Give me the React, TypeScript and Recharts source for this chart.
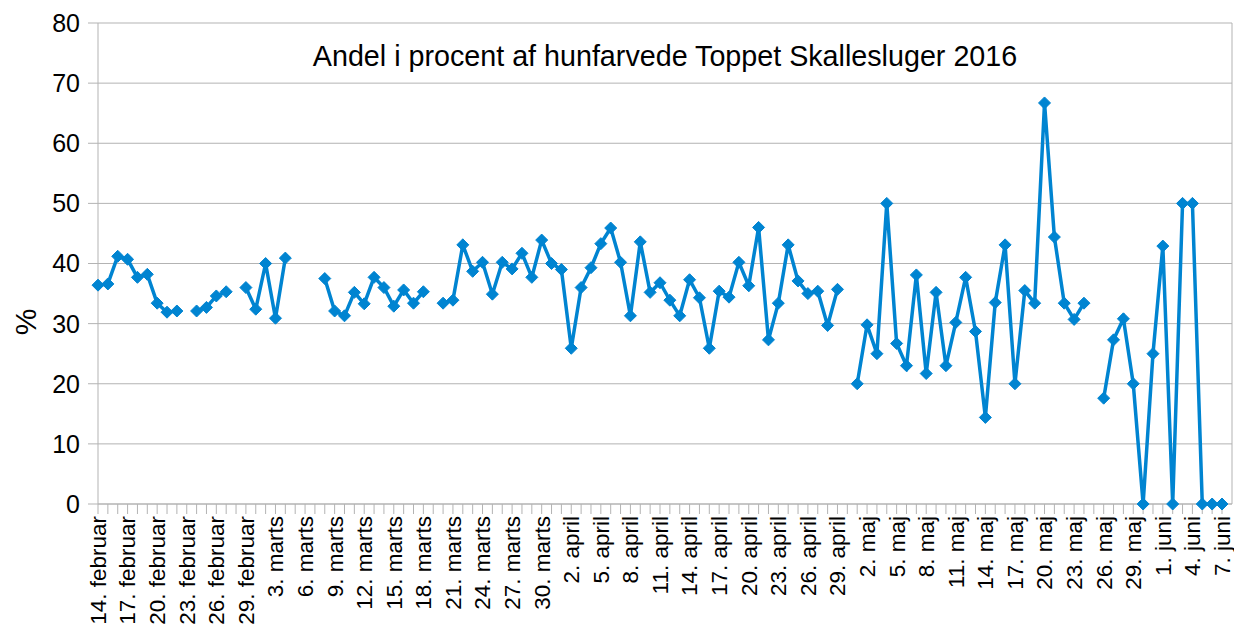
import React from "react";
import { LineChart, Line, XAxis, YAxis, CartesianGrid } from "recharts";

// month names and how many days of each are shown (14 feb - 7 juni 2016)
const months = ["februar", "marts", "april", "maj", "juni"];
const monthStart = [14, 1, 1, 1, 1];
const monthEnd = [29, 31, 30, 31, 7];

const yTicks = [0, 10, 20, 30, 40, 50, 60, 70, 80];

// percent per day, null = no count that day
const share: (number | null)[] = [
  36.4, 36.6, 41.2, 40.7, 37.7, 38.2, 33.4, 31.9, 32.1, null,
  32.1, 32.7, 34.6, 35.3, null, 36.0, 32.4, 40.0, 30.9, 40.9,
  null, null, null, 37.5, 32.1, 31.3, 35.2, 33.3, 37.7, 36.0,
  32.9, 35.6, 33.4, 35.3, null, 33.4, 33.9, 43.1, 38.7, 40.2,
  34.9, 40.2, 39.1, 41.7, 37.7, 43.9, 40.0, 39.0, 25.9, 36.0,
  39.3, 43.3, 45.9, 40.2, 31.3, 43.6, 35.2, 36.8, 33.9, 31.3,
  37.3, 34.3, 25.9, 35.4, 34.4, 40.2, 36.3, 46.0, 27.3, 33.4,
  43.1, 37.1, 35.0, 35.4, 29.7, 35.7, null, 20.0, 29.8, 25.0,
  50.0, 26.7, 23.0, 38.1, 21.7, 35.2, 23.0, 30.2, 37.7, 28.7,
  14.4, 33.5, 43.1, 20.0, 35.5, 33.4, 66.7, 44.4, 33.4, 30.7,
  33.4, null, 17.6, 27.3, 30.8, 20.0, 0, 25.0, 42.9, 0,
  50.0, 50.0, 0, 0, 0,
];

const days: string[] = [];
months.forEach((m, i) => {
  for (let d = monthStart[i]; d <= monthEnd[i]; d++) days.push(`${d}. ${m}`);
});

const data = days.map((label, i) => ({ label, value: share[i] }));

const FONT = "'Liberation Sans', Arial, sans-serif";
const BLUE = "#0084d1";
const GREY = "#b3b3b3";

function DateTick(props: any) {
  const { x, y, payload, index } = props;
  if (index % 3 !== 0) return <g />;
  return (
    <text
      transform={`translate(${x},${y}) rotate(-90)`}
      textAnchor="end"
      dy="0.35em"
      fontSize={22.5}
      fontFamily={FONT}
      fill="#000"
    >
      {payload.value}
    </text>
  );
}

function Diamond(props: any) {
  const { cx, cy, value } = props;
  if (value == null || cx == null || cy == null) return <g />;
  const r = 6;
  return (
    <polygon
      points={`${cx},${cy - r} ${cx + r},${cy} ${cx},${cy + r} ${cx - r},${cy}`}
      fill={BLUE}
      stroke={BLUE}
    />
  );
}

export default function App() {
  return (
    <div style={{ position: "relative", width: 1234, height: 628, overflow: "hidden", fontFamily: FONT }}>
      <style>{"body{margin:0}"}</style>
      <LineChart width={1234} height={628} data={data} margin={{ top: 23, right: 0, left: 0, bottom: 0 }}>
        <CartesianGrid vertical={false} stroke={GREY} yAxisId="left" />
        <XAxis
          dataKey="label"
          interval={0}
          tick={<DateTick />}
          tickSize={10}
          tickMargin={2}
          tickLine={{ stroke: GREY }}
          axisLine={{ stroke: GREY }}
          padding={{ left: 0, right: 10 }}
          height={124}
        />
        <YAxis
          yAxisId="left"
          domain={[0, 80]}
          ticks={yTicks}
          width={98}
          tickSize={10}
          tickMargin={8}
          tick={{ fontSize: 25, fill: "#000", fontFamily: FONT }}
          tickLine={{ stroke: GREY }}
          axisLine={{ stroke: GREY }}
        />
        <YAxis
          yAxisId="right"
          orientation="right"
          domain={[0, 80]}
          width={2}
          tick={false}
          tickLine={false}
          axisLine={{ stroke: GREY }}
        />
        <Line
          yAxisId="left"
          type="linear"
          dataKey="value"
          stroke={BLUE}
          strokeWidth={3.5}
          dot={<Diamond />}
          activeDot={false}
          connectNulls={false}
          isAnimationActive={false}
        />
      </LineChart>
      <div
        style={{
          position: "absolute",
          left: 665,
          top: 42,
          transform: "translateX(-50%)",
          whiteSpace: "nowrap",
          fontSize: 28.7,
          lineHeight: "28px",
          color: "#000",
        }}
      >
        Andel i procent af hunfarvede Toppet Skallesluger 2016
      </div>
      <div
        style={{
          position: "absolute",
          left: 26,
          top: 322,
          transform: "translate(-50%,-50%) rotate(-90deg)",
          fontSize: 30,
          lineHeight: "30px",
          color: "#000",
        }}
      >
        %
      </div>
    </div>
  );
}
